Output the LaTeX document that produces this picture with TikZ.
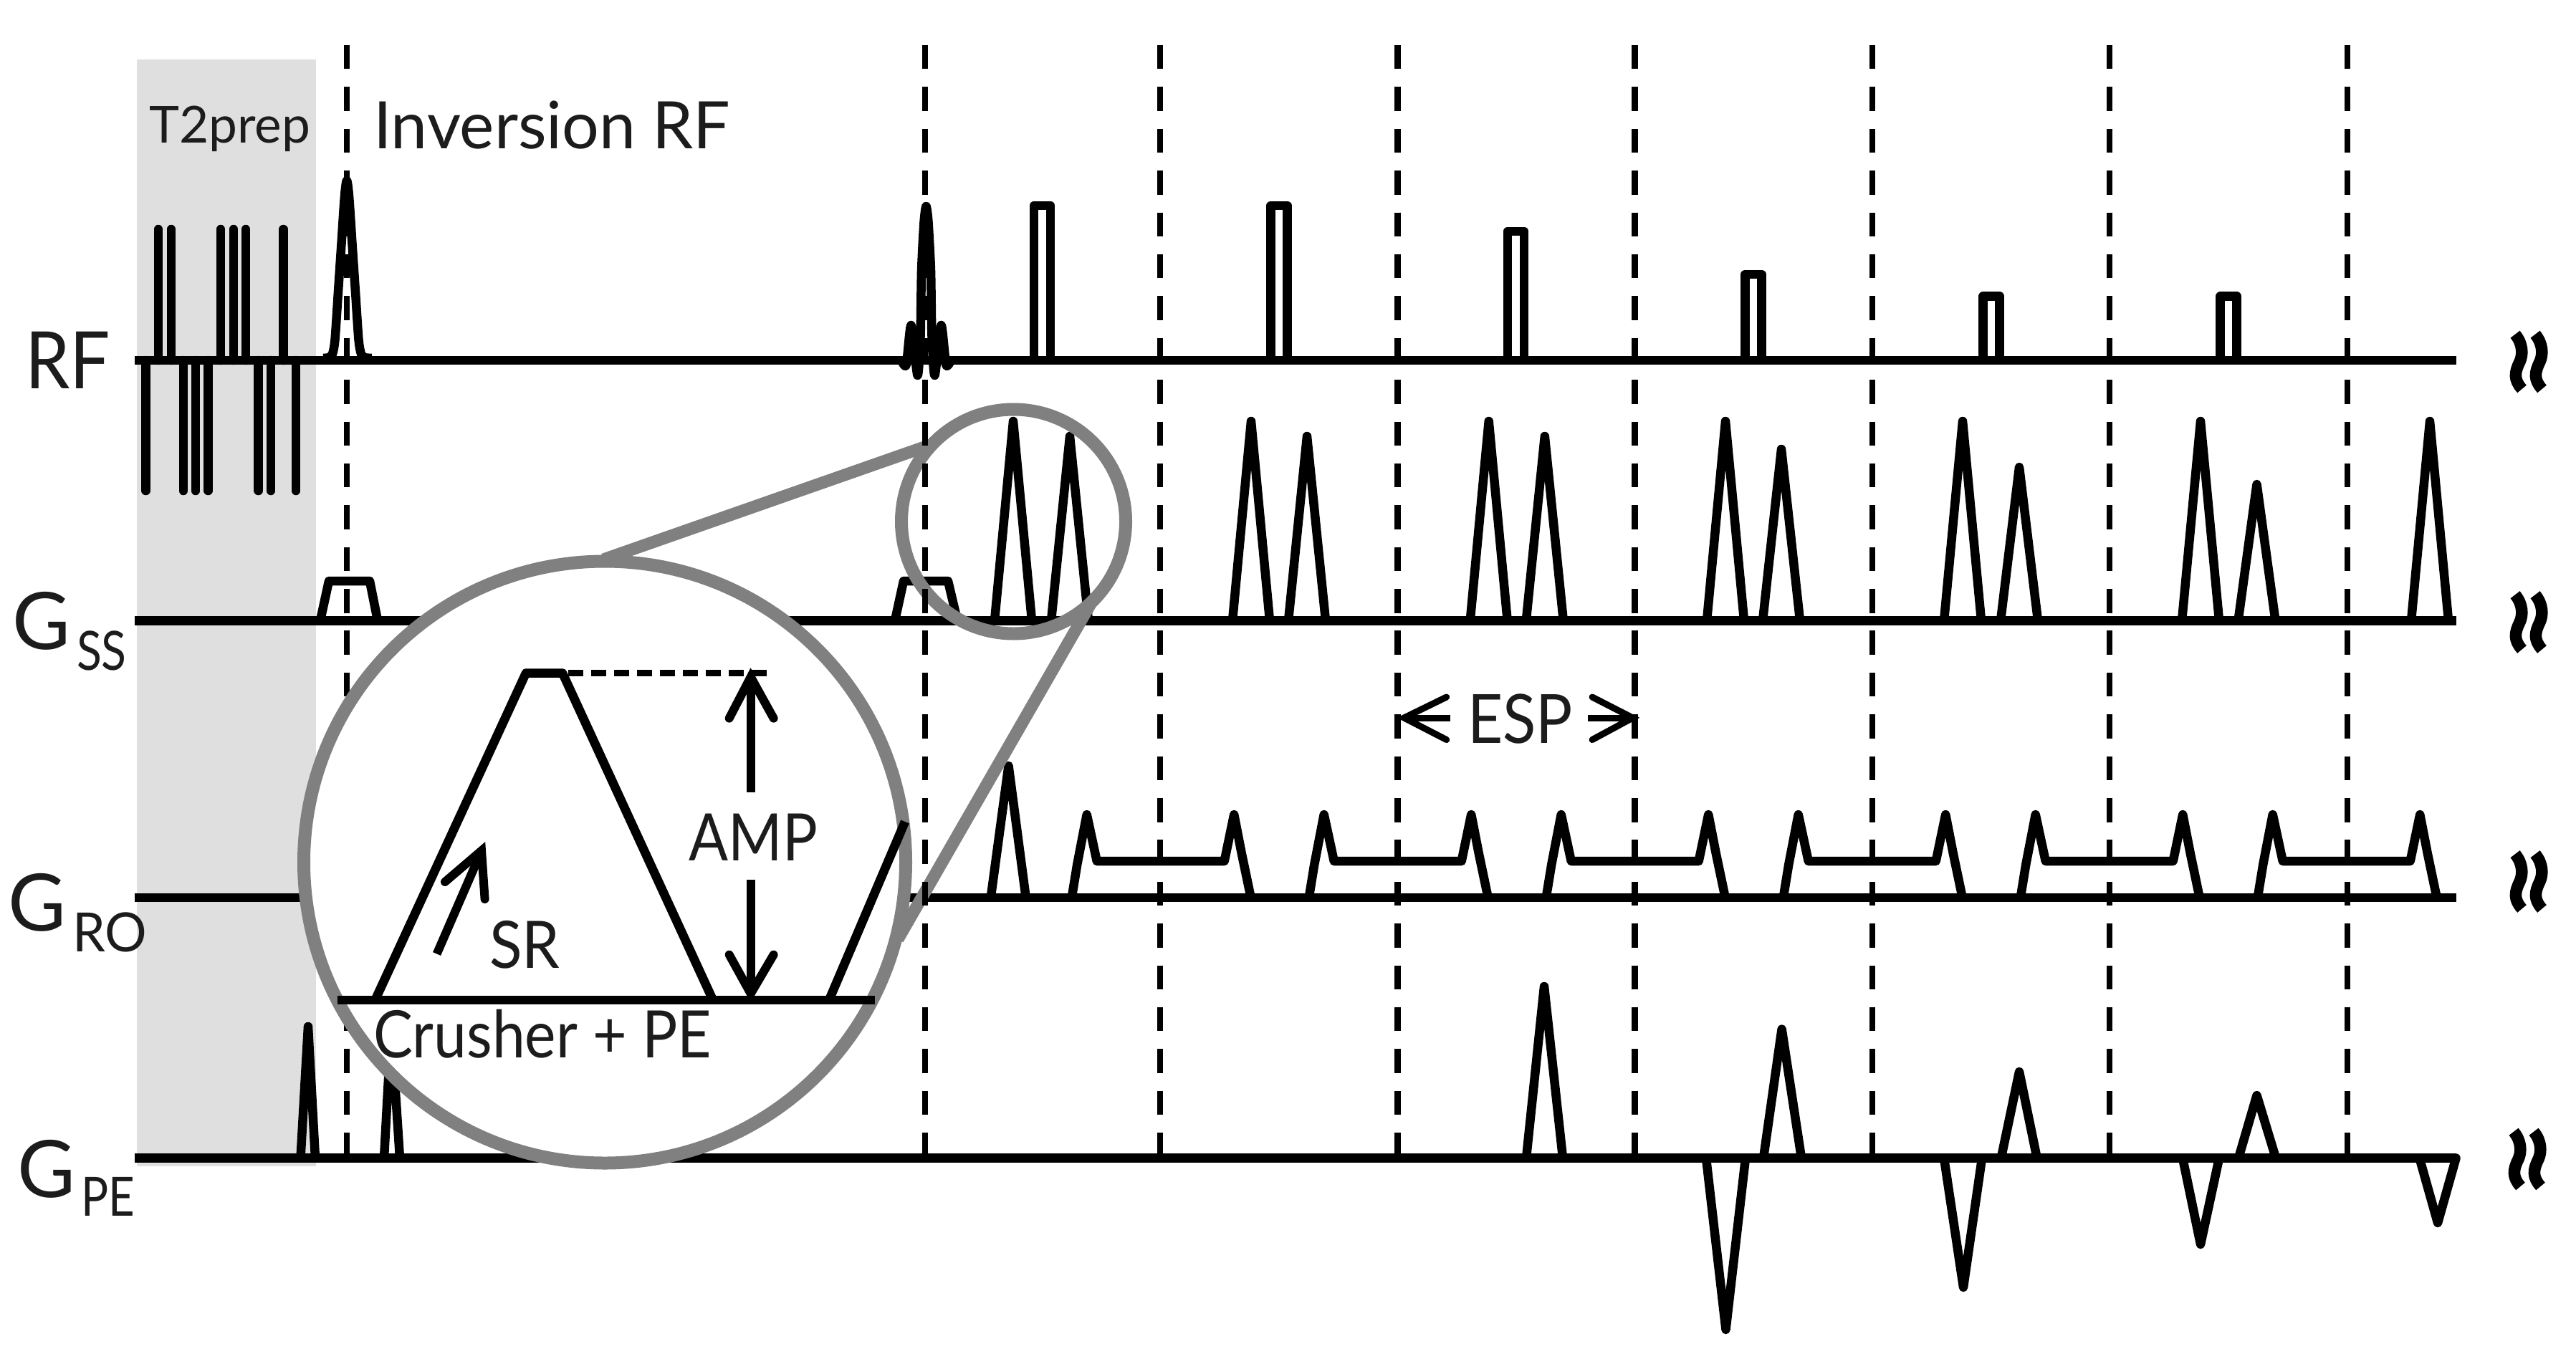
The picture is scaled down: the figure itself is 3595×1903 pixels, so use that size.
\documentclass[tikz,border=0pt]{standalone}
\usepackage{fontspec}
\setmainfont{Lato}
\usepackage{graphicx}
\definecolor{ringgray}{HTML}{808080}
\definecolor{prepgray}{HTML}{DFDFDF}
\definecolor{inkgray}{HTML}{1C1C1C}
\newcommand{\fs}[1]{\fontsize{#1pt}{#1pt}\selectfont}
\newcommand{\nar}[2]{\scalebox{#1}[1]{#2}}
\tikzset{
  wave/.style={line width=.25cm,line join=round,line cap=butt,black},
  axisline/.style={line width=.25cm,black},
  pulse/.style={line width=.25cm,line cap=round,black},
  sep/.style={line width=.17cm,black,dash pattern=on .67cm off .498cm},
  ring/.style={line width=.36cm,ringgray},
  zoomline/.style={line width=.34cm,ringgray},
  arrowline/.style={line width=.24cm,black,line join=miter},
  wing/.style={line width=.24cm,black,line cap=round,line join=miter,miter limit=20},
  txt/.style={anchor=base west,inner sep=0pt,outer sep=0pt,text=inkgray},
  tilde/.style={line width=.33cm,black},
}
\begin{document}
\begin{tikzpicture}[x=0.02cm,y=-0.02cm]
\useasboundingbox (0,0) rectangle (3595,1903);
% T2prep band
\fill[prepgray] (190.5,82.5) rectangle (441,1628);
% axes
\foreach \yy in {503,866.5,1253,1616.5}{\draw[axisline] (187.5,\yy) -- (3427.5,\yy);}
% T2 prep pulses
\foreach \x in {221,239,308,326,343,395.5}{\draw[pulse] (\x,320) -- (\x,503);}
\foreach \x in {203.6,255.8,273,290.6,360.7,378,413}{\draw[pulse] (\x,503) -- (\x,685);}
% inversion pulse
\draw[wave] plot[smooth,tension=.45] coordinates {(451,500)(459,499)(464,494)(467.5,474)(472,407)(476.5,340)(481,273)(484,252)(487,273)(491.5,340)(496,407)(500.5,474)(504,494)(509,499)(519,500)};
% excitation sinc
\draw[wave] plot[smooth,tension=.4] coordinates {(1256,499)(1264.5,510)(1271.5,454)(1280.5,524)(1284.5,470)(1286,378)(1289.5,310)(1292.5,288)(1295.5,310)(1299,378)(1300.5,470)(1304.5,524)(1313.5,454)(1320.5,510)(1329,499)};
% RF refocusing rectangles
\foreach \x/\t in {1454.5/287,1785/287,2115.6/323,2447/383,2779/413.5,3110/413.5}{
  \draw[wave] ({\x-11.5},503) -- ({\x-11.5},\t) -- ({\x+11.5},\t) -- ({\x+11.5},503);}
% GSS trapezoids
\draw[wave] (447,866) -- (459,811) -- (516,811) -- (527,866);
\draw[wave] (1249,866) -- (1261,811) -- (1323,811) -- (1336,866);
% GSS triangles
\foreach \x/\t in {1414/588,1493/609,1746/588,1824/609,2077.7/588,2155.8/609,2408/588,2486/627,2739/588,2818/652,3071/588,3149.5/676,3391/588}{
  \draw[wave] ({\x-26},866.5) -- (\x,\t) -- ({\x+26},866.5);}
% GRO
\draw[wave] (1382.7,1253) -- (1407.5,1069) -- (1431.7,1253);
\foreach \X in {1495.7,1826.7,2157.7,2488.7,2819.7,3150.7}{
  \draw[wave] (\X,1253) -- ({\X+7.5},1207) -- ({\X+21},1137) -- ({\X+35},1202) -- ({\X+213},1202) -- ({\X+226.5},1137) -- ({\X+237},1191) -- ({\X+250},1253);}
% GPE
\draw[wave] (419.5,1616.5) -- (430,1433) -- (440,1616.5);
\draw[wave] (536,1616.5) -- (546,1433) -- (558,1616.5);
\draw[wave] (2130,1616.5) -- (2155,1377) -- (2181,1616.5);
\draw[wave] (2381,1616.5) -- (2408.5,1856) -- (2436,1616.5);
\draw[wave] (2461,1616.5) -- (2486.6,1436.5) -- (2514,1616.5);
\draw[wave] (2713,1616.5) -- (2740,1797) -- (2766,1616.5);
\draw[wave] (2792.7,1616.5) -- (2818,1496) -- (2842.7,1616.5);
\draw[wave] (3046,1616.5) -- (3071,1737) -- (3097,1616.5);
\draw[wave] (3124,1616.5) -- (3149.5,1529) -- (3176,1616.5);
\draw[wave] (3376.5,1616.5) -- (3402,1707) -- (3427.5,1616.5) -- cycle;
% magnifier: small ring and connectors
\draw[ring] (1414.5,728) circle [radius=156.5];
\draw[zoomline] (842,781) -- (1290,624);
\draw[zoomline] (1522,843) -- (1253,1311);
% separators
\foreach \x in {484,1291,1619,1950.4,2281.7,2613,2944,3276}{\draw[sep] (\x,63) -- (\x,1616);}
% large ring
\draw[ring,fill=white] (844,1203.5) circle [radius=420];
% magnified gradient
\draw[line width=.25cm,black] (470.6,1396) -- (1220.6,1396);
\draw[wave] (523.5,1396) -- (734,939.5) -- (785,939.5) -- (995,1396);
\draw[wave] (1157,1396) -- (1263,1147);
\draw[line width=.17cm,black,dash pattern=on .42cm off .22cm] (793,939.5) -- (1070,939.5);
\draw[arrowline] (1047.7,1106) -- (1047.7,950);
\draw[wing] (1017.7,1002.6) -- (1047.7,945) -- (1079.6,1002.6);
\draw[arrowline] (1047.7,1227.6) -- (1047.7,1380);
\draw[wing] (1017.7,1332.7) -- (1047.7,1387) -- (1079.6,1332.7);
\draw[arrowline] (609.6,1331.5) -- (668,1197);
\draw[wing] (621,1231) -- (672,1187.4) -- (676.6,1255);
% ESP arrows
\draw[arrowline,line width=.18cm] (2024,1002) -- (1968,1002);
\draw[wing,line width=.18cm] (2018.7,973) -- (1959.4,1002) -- (2018.7,1032.6);
\draw[arrowline,line width=.18cm] (2216,1002) -- (2270,1002);
\draw[wing,line width=.18cm] (2222,973) -- (2278.6,1002) -- (2222,1032.6);
% tilde marks
\foreach \dx/\dy in {0/0,0/363.5,0/725.5,-2/1113}{
  \begin{scope}[shift={(\dx,\dy)}]
  \foreach \s in {0,28}{
   \begin{scope}[shift={(\s,0)}]
   \draw[tilde] (3510,466.7) .. controls (3521,480) and (3521,495) .. (3516.5,505) .. controls (3509,520) and (3508,530) .. (3519.5,543);
   \end{scope}}
  \end{scope}}
% text
\node[txt] (lrf) at (35,542) {\fs{63}\nar{.9}{RF}};
\node[txt] (lt2) at (208,199.5) {\fs{40.5}T2prep};
\node[txt] (linv) at (521,207) {\fs{52}Inversion RF};
\node[txt] (lgss) at (17,906) {\fs{63}G};
\node[txt] (lss) at (107,935) {\fs{43}\nar{.85}{SS}};
\node[txt] (lgro) at (11,1299.4) {\fs{63}G};
\node[txt] (lro) at (101,1328) {\fs{43}\nar{.97}{RO}};
\node[txt] (lgpe) at (24,1671) {\fs{63}G};
\node[txt] (lpe) at (113,1697) {\fs{43}\nar{.84}{PE}};
\node[txt] (lesp) at (2048,1037) {\fs{54}\nar{.9}{ESP}};
\node[txt] (lamp) at (961.6,1201.8) {\fs{52}\nar{.89}{AMP}};
\node[txt] (lsr) at (683,1351.6) {\fs{52}\nar{.92}{SR}};
\node[txt] (lcr) at (521,1476) {\fs{52}\nar{.9}{Crusher + PE}};
\end{tikzpicture}
\end{document}
